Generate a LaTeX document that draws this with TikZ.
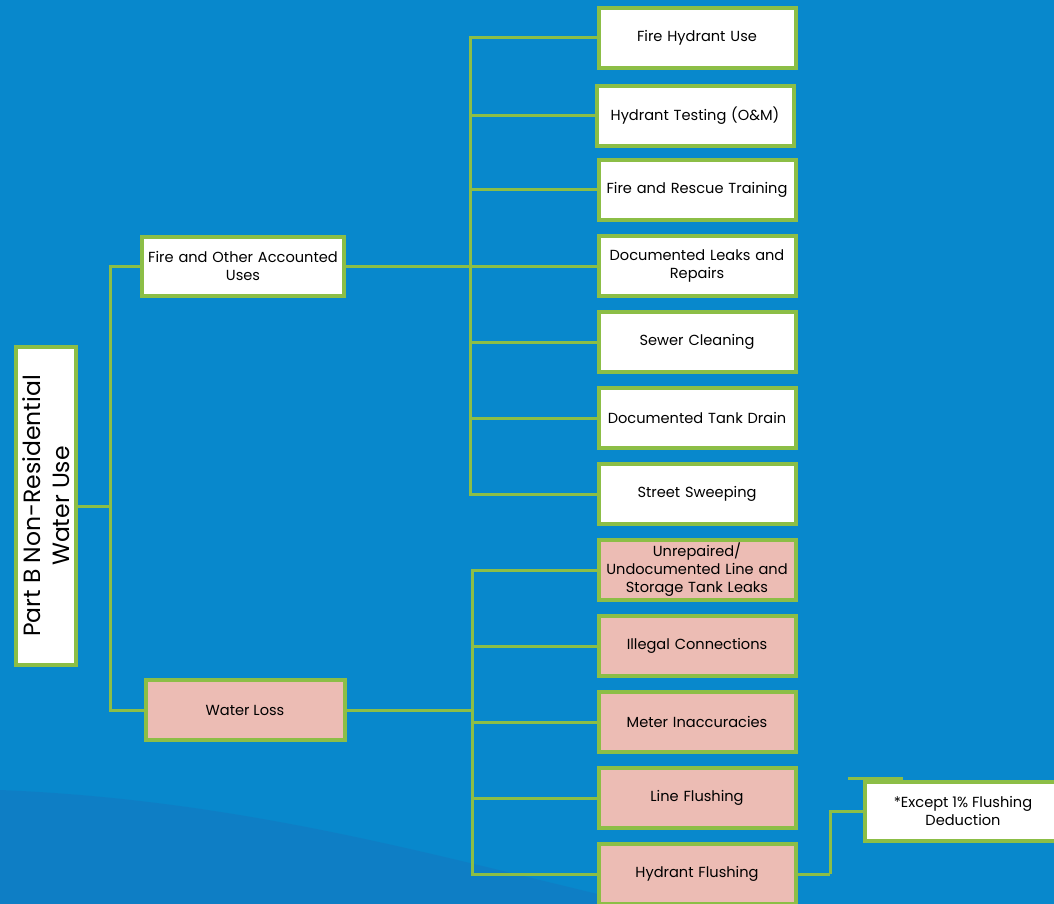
\documentclass[tikz,border=0pt]{standalone}
\usepackage{fontspec}
\setmainfont{Poppins}
\usepackage{tikz}
\definecolor{seablue}{RGB}{8,136,204}
\definecolor{deepblue}{RGB}{22,116,190}
\definecolor{leafgreen}{RGB}{140,190,70}
\definecolor{losspink}{RGB}{236,188,180}
\newcommand{\leafline}[2]{%
  \draw[link] (#1) |- (#2.west);%
}

\begin{document}
\begin{tikzpicture}[x=1pt,y=-1pt,
  box/.style={draw=leafgreen,line width=4pt,fill=white,align=center,
    inner sep=2pt,text=black,font=\fontsize{14.6}{18}\selectfont},
  leaf/.style={box,minimum width=197pt,minimum height=60pt,text width=192pt},
  lossleaf/.style={leaf,fill=losspink},
  link/.style={draw=leafgreen,line width=3pt}]
  \useasboundingbox (0,0) rectangle (1054,904);
  % water background
  \fill[seablue] (0,0) rectangle (1054,904);
  \fill[deepblue,opacity=0.45] (0,790) .. controls (250,800) and (450,860) .. (640,904) -- (0,904) -- cycle;
  % root and second level
  \node[box,rotate=90,minimum width=318pt,minimum height=60pt,
    font=\fontsize{23.5}{29}\selectfont] (root) at (46,506) {Part B Non-Residential\\Water Use};
  \node[box,minimum width=198pt,minimum height=59pt,text width=198pt] (fire) at (243,266) {Fire and Other Accounted\\Uses};
  \node[box,fill=losspink,minimum width=199pt,minimum height=60pt] (loss) at (245,710) {Water Loss};
  \draw[link] (root.south) -- (110,506) coordinate (rootfork);
  \leafline{rootfork}{fire}
  \leafline{rootfork}{loss}
  % accounted uses
  \draw[link] (fire.east) -- (470,266) coordinate (firefork);
  \node[leaf] (fhu) at (697,38) {Fire Hydrant Use};
  \node[leaf] (hto) at (695,116) {Hydrant Testing (O\&M)};
  \foreach \y/\n/\t in {190/frt/{Fire and Rescue Training},
      266/dlr/{Documented Leaks and\\Repairs},
      342/swc/{Sewer Cleaning},
      418/dtd/{Documented Tank Drain},
      494/sts/{Street Sweeping}}
    \node[leaf] (\n) at (697,\y) {\t};
  \foreach \n in {fhu,hto,frt,dlr,swc,dtd,sts}
    \leafline{firefork}{\n}
  % water loss
  \draw[link] (loss.east) -- (472,710) coordinate (lossfork);
  \foreach \y/\n/\t in {570/uul/{Unrepaired/\\Undocumented Line and\\Storage Tank Leaks},
      646/ilc/{Illegal Connections},
      722/mti/{Meter Inaccuracies},
      798/lfl/{Line Flushing},
      874/hfl/{Hydrant Flushing}}
    \node[lossleaf] (\n) at (697,\y) {\t};
  \foreach \n in {uul,ilc,mti,lfl,hfl}
    \leafline{lossfork}{\n}
  % flushing note
  \node[box,minimum width=196pt,minimum height=59pt] (note) at (963,811) {*Except 1\% Flushing\\Deduction};
  \draw[link] (hfl.east) -- (830,874) coordinate (notefork);
  \leafline{notefork}{note}
  \draw[link] (848,778) -- (903,778);
\end{tikzpicture}
\end{document}
